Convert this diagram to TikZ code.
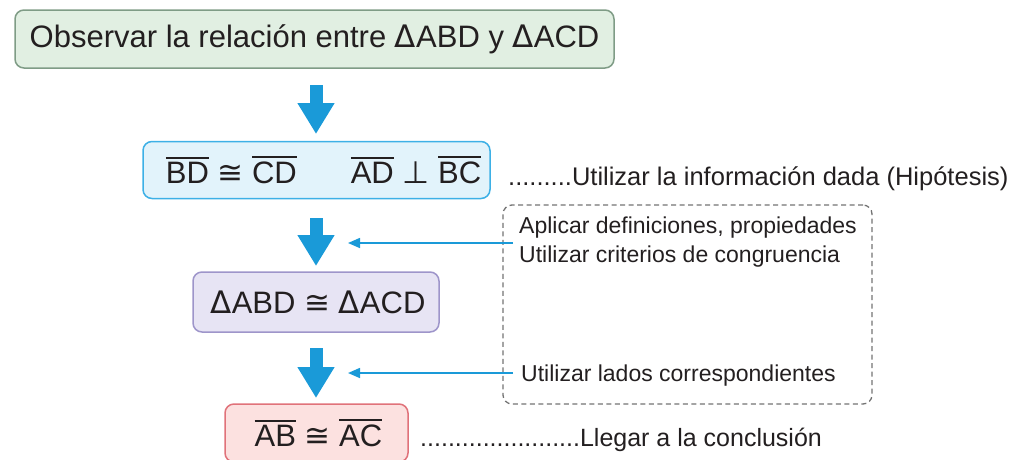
\documentclass[tikz,border=0pt]{standalone}
\usepackage{fontspec}
\setmainfont{Liberation Sans}
\newfontfamily\symf{DejaVu Sans}
\usetikzlibrary{arrows.meta}
\definecolor{arrblue}{HTML}{1A9AD8}
\definecolor{gfill}{HTML}{E1EFE2}
\definecolor{gdraw}{HTML}{7F9C86}
\definecolor{bfill}{HTML}{E2F3FB}
\definecolor{bdraw}{HTML}{3DB0E6}
\definecolor{pfill}{HTML}{E7E4F4}
\definecolor{pdraw}{HTML}{9E95CA}
\definecolor{rfill}{HTML}{FCE1E0}
\definecolor{rdraw}{HTML}{E0727A}
\definecolor{txt}{HTML}{231F20}
\newcommand\ovl[1]{\sbox0{#1}\makebox[0pt][l]{\rule[\dimexpr\ht0+3.5pt\relax]{\wd0}{2.2pt}}\usebox0}
\newcommand\congsym{{\symf\char"2245}}
\newcommand\perpsym{{\symf\char"22A5}}
\newcommand\tri{{\symf\char"0394}}
\begin{document}
\begin{tikzpicture}[x=1pt,y=-1pt,
  box/.style={rounded corners=9pt,line width=1.5pt,inner sep=0pt,text=txt,
    font=\fontsize{31}{36}\selectfont},
  bigarrow/.style={arrblue,line width=13pt,-{Triangle[width=35pt,length=31pt]}},
  thinarrow/.style={arrblue,line width=1.6pt,-{Triangle[width=10pt,length=12pt]}},
  side/.style={anchor=base west,inner sep=0pt,text=txt,font=\fontsize{25.5}{28}\selectfont},
  dside/.style={anchor=base west,inner sep=0pt,text=txt,font=\fontsize{23}{28}\selectfont},
  dashbox/.style={draw=black!55,line width=1.3pt,dash pattern=on 5pt off 3.5pt,rounded corners=9pt}]
\useasboundingbox (0,0) rectangle (1015,459);
\node[box,fill=gfill,draw=gdraw,minimum width=599pt,minimum height=58pt] (b1) at (314.5,39) {Observar la relación entre \tri ABD y \tri ACD};
\node[box,fill=bfill,draw=bdraw,minimum width=347pt,minimum height=57pt] (b2) at (316.5,170) {\hspace{14pt}\ovl{BD} \congsym{} \ovl{CD}\hspace{1.74em}\ovl{AD} \perpsym{} \ovl{BC}};
\node[box,fill=pfill,draw=pdraw,minimum width=246pt,minimum height=60pt] (b3) at (316,302) {\hspace{4pt}\tri ABD \congsym{} \tri ACD};
\node[box,fill=rfill,draw=rdraw,minimum width=183pt,minimum height=58pt] (b4) at (316.5,433) {\hspace{4pt}\ovl{AB} \congsym{} \ovl{AC}};
% big arrows
\coordinate (a1s) at (316,85); \coordinate (a1e) at (316,134);
\coordinate (a2s) at (316,218); \coordinate (a2e) at (316,266);
\coordinate (a3s) at (316,348); \coordinate (a3e) at (316,398);
\draw[bigarrow] (a1s) -- (a1e);
\draw[bigarrow] (a2s) -- (a2e);
\draw[bigarrow] (a3s) -- (a3e);
% dashed box
\node[dashbox,minimum width=369pt,minimum height=199pt,inner sep=0pt] (db) at (687.5,304.5) {};
\coordinate (t1s) at (513,243); \coordinate (t1e) at (348,243);
\coordinate (t2s) at (513,373); \coordinate (t2e) at (348,373);
\draw[thinarrow] (t1s) -- (t1e);
\draw[thinarrow] (t2s) -- (t2e);
% texts
\node[side] (h) at (508,185) {.........Utilizar la información dada (Hipótesis)};
\node[dside] (d1) at (519,233) {Aplicar definiciones, propiedades};
\node[dside] (d2) at (519,262) {Utilizar criterios de congruencia};
\node[dside] (d3) at (521,381) {Utilizar lados correspondientes};
\node[side,font=\fontsize{25}{28}\selectfont] (c) at (420,446) {.......................Llegar a la conclusión};
\end{tikzpicture}
\end{document}
